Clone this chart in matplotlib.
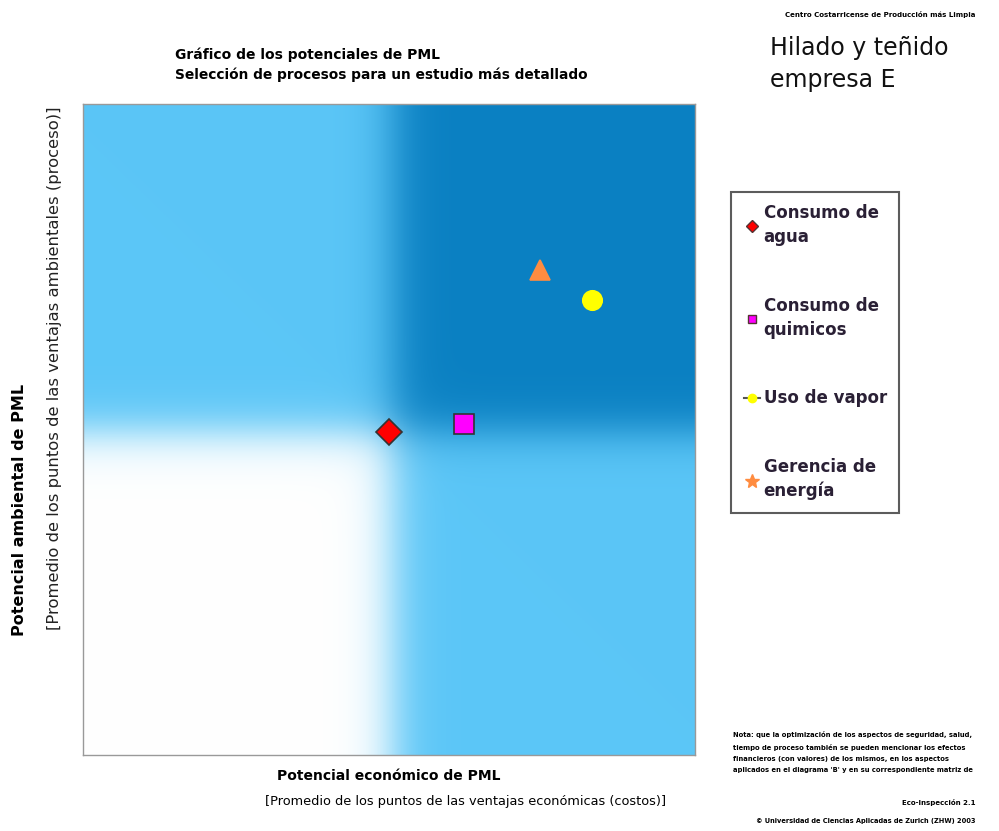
import numpy as np
import matplotlib
matplotlib.use("Agg")
import matplotlib.pyplot as plt
from matplotlib.lines import Line2D

# procesos evaluados (potencial economico, potencial ambiental)
procesos = ["Consumo de\nagua", "Consumo de\nquimicos", "Uso de vapor", "Gerencia de\nenergía"]
pot_economico = [5.0, 6.23, 8.32, 7.47]
pot_ambiental = [4.96, 5.08, 6.99, 7.45]
marcadores = ["D", "s", "o", "^"]
colores = ["#ff0000", "#ff00ff", "#ffff00", "#ff8c40"]
tamanos = [13, 15, 14, 15]
leyenda_marcadores = ["D", "s", "o", "*"]

fig = plt.figure(figsize=(9.99, 8.31), dpi=100)
ax = fig.add_axes([83/999, 76/831, 612/999, 651/831])

# fondo por cuadrantes con transicion suave
n = 400
xs = np.linspace(0, 10, n)
sx = 1 / (1 + np.exp(-(xs - 5.05) / 0.22))
sy = 1 / (1 + np.exp(-(xs - 4.95) / 0.2))
SX, SY = np.meshgrid(sx, sy)
claro = np.array([0x5b, 0xc6, 0xf7]) / 255
oscuro = np.array([0x0a, 0x80, 0xc2]) / 255
blanco = np.array([1.0, 1.0, 1.0])
img = ((1 - SX) * SY)[..., None] * claro + (SX * SY)[..., None] * oscuro \
    + ((1 - SX) * (1 - SY))[..., None] * blanco + (SX * (1 - SY))[..., None] * claro
ax.imshow(img, extent=[0, 10, 0, 10], origin="lower", aspect="auto", zorder=0)

for x, y, m, c, s in zip(pot_economico, pot_ambiental, marcadores, colores, tamanos):
    ec = "#333333" if m in ("D", "s") else c
    ax.plot(x, y, marker=m, color=c, markersize=s, markeredgecolor=ec,
            markeredgewidth=1.2, linestyle="none", zorder=3)

ax.set_xlim(0, 10)
ax.set_ylim(0, 10)
ax.set_xticks([])
ax.set_yticks([])
for sp in ax.spines.values():
    sp.set_color("#999999")
    sp.set_linewidth(1)

# leyenda
handles = [Line2D([], [], marker=m, color=c, markeredgecolor="#553333" if m in ("D", "s") else c,
                  markersize=6 if m != "*" else 10, linestyle="-" if m == "o" else "none",
                  markerfacecolor=c)
           for m, c in zip(leyenda_marcadores, colores)]
handles[2].set_color("#555555")
handles[2].set_markerfacecolor("#ffff00")
leg = fig.legend(handles, procesos, loc="upper left",
                 bbox_to_anchor=(731/999, 1 - 192/831), fancybox=False,
                 frameon=True, fontsize=12, labelspacing=3.05, handlelength=1.0,
                 handletextpad=0.2, borderpad=0.75, borderaxespad=0)
leg.get_frame().set_edgecolor("#333333")
leg.get_frame().set_linewidth(1.5)
for t in leg.get_texts():
    t.set_color("#2a2035")
    t.set_fontweight("bold")
    t.set_linespacing(1.4)

fig.text(175/999, 1 - 55/831, "Gráfico de los potenciales de PML",
         fontsize=10, fontweight="bold", va="center", ha="left")
fig.text(175/999, 1 - 75/831, "Selección de procesos para un estudio más detallado",
         fontsize=9.9, fontweight="bold", va="center", ha="left")

fig.text(770/999, 1 - 64/831, "Hilado y teñido\nempresa E", fontsize=17,
         va="center", ha="left", linespacing=1.45, color="#111111")

fig.text(975/999, 1 - 15/831, "Centro Costarricense de Producción más Limpia",
         fontsize=5, fontweight="bold", ha="right", va="center")

fig.text(20/999, 1 - 510/831, "Potencial ambiental de PML", rotation=90,
         fontsize=11.5, fontweight="bold", ha="center", va="center")
fig.text(55/999, 1 - 368/831,
         "[Promedio de los puntos de las ventajas ambientales (proceso)]",
         rotation=90, fontsize=11.8, ha="center", va="center", color="#222222")

fig.text(277/999, 1 - 776/831, "Potencial económico de PML",
         fontsize=10, fontweight="bold", ha="left", va="center")
fig.text(265/999, 1 - 802/831,
         "[Promedio de los puntos de las ventajas económicas (costos)]",
         fontsize=9.3, ha="left", va="center")

nota = ("Nota: que la optimización de los aspectos de seguridad, salud,\n"
        "tiempo de proceso también se pueden mencionar los efectos\n"
        "financieros (con valores) de los mismos, en los aspectos\n"
        "aplicados en el diagrama 'B' y en su correspondiente matriz de")
fig.text(733/999, 1 - 752/831, nota, fontsize=4.9,
         fontweight="bold", ha="left", va="center", linespacing=2.0)
fig.text(975/999, 1 - 803/831, "Eco-Inspección 2.1",
         fontsize=5, fontweight="bold", ha="right", va="center")
fig.text(975/999, 1 - 821/831,
         "© Universidad de Ciencias Aplicadas de Zurich (ZHW) 2003",
         fontsize=4.8, fontweight="bold", ha="right", va="center")

fig.savefig("out.png", dpi=100)
